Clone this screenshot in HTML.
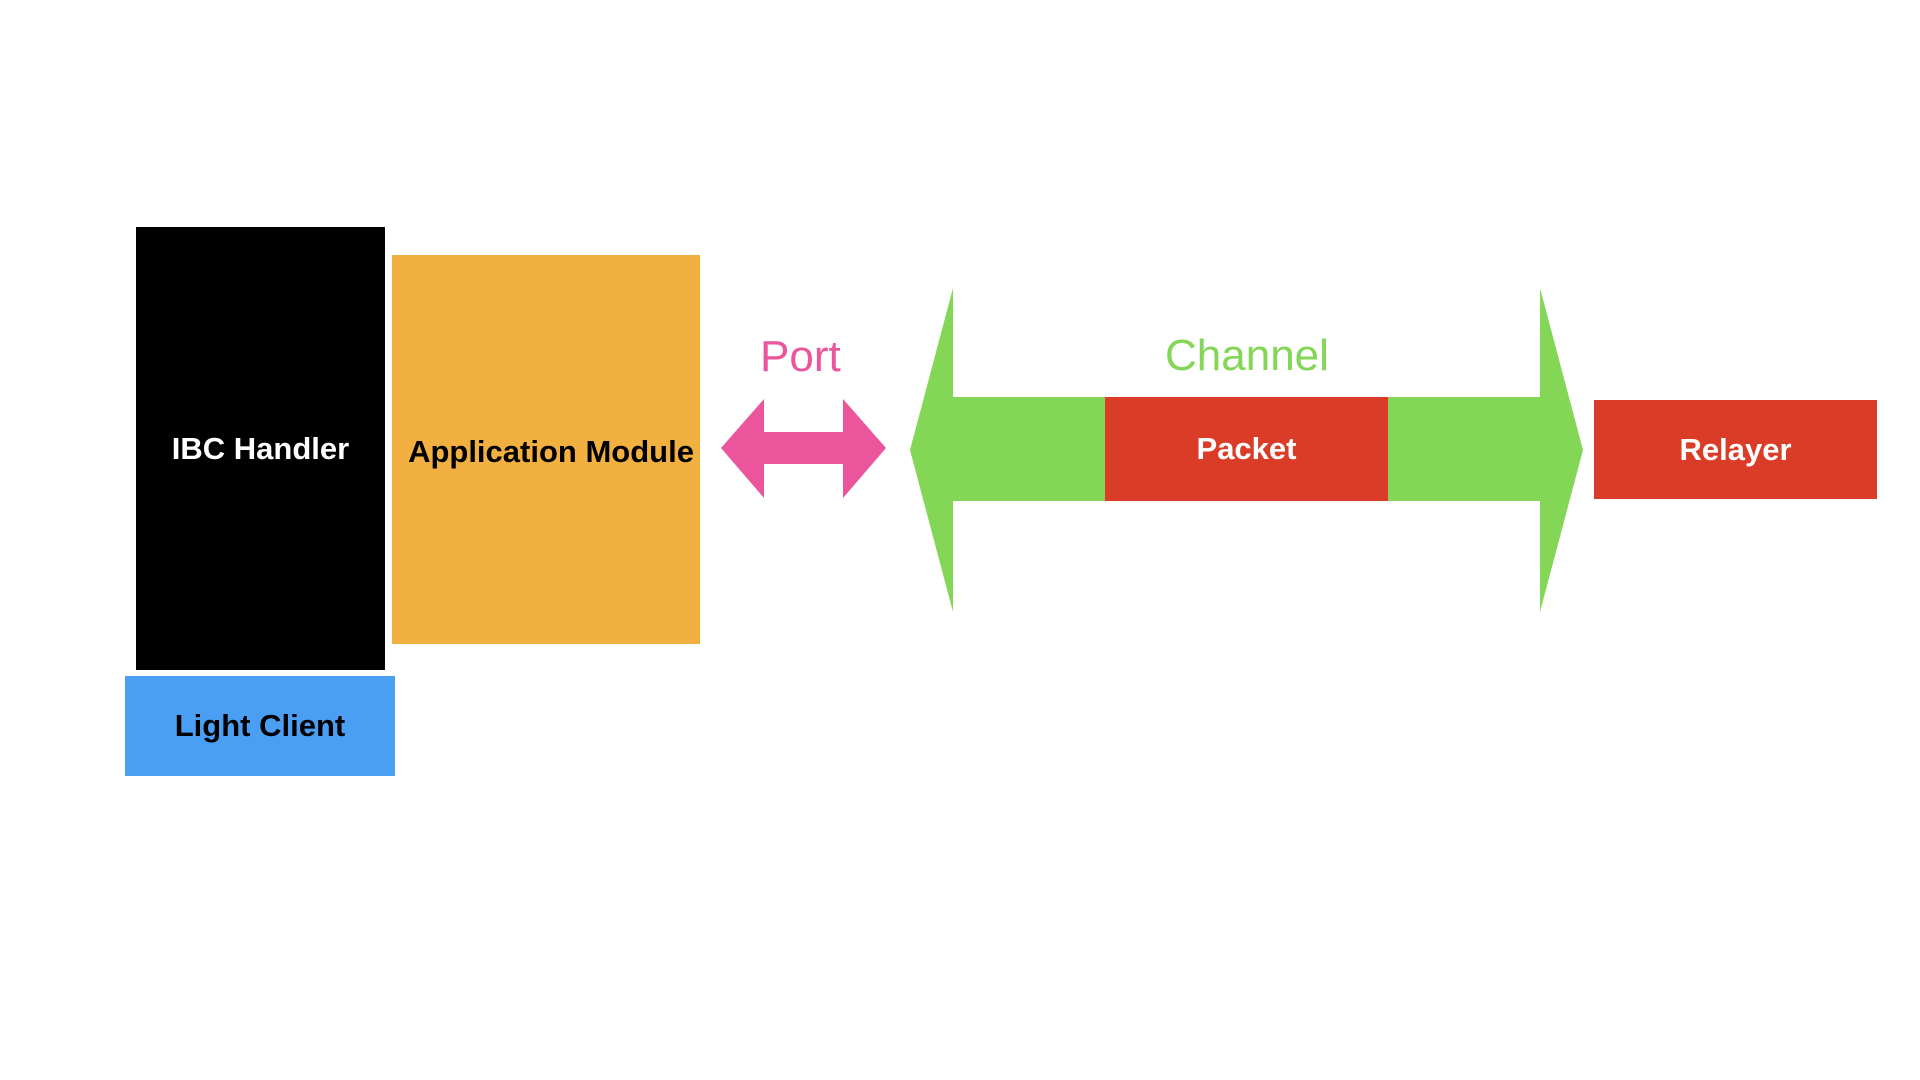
<!DOCTYPE html>
<html><head><meta charset="utf-8"><style>
html,body{margin:0;padding:0;background:#fff;}
body{width:1920px;height:1080px;position:relative;overflow:hidden;font-family:"Liberation Sans",Arial,sans-serif;}
.b{position:absolute;display:flex;align-items:center;justify-content:center;font-weight:bold;font-size:31px;}
.t{position:absolute;font-size:44px;line-height:1;}
</style></head><body>
<div class="b" style="left:136px;top:227px;width:249px;height:443px;background:#000;color:#fff;">IBC Handler</div>
<div class="b" style="left:392px;top:255px;width:308px;height:389px;background:#F1B03F;color:#000;white-space:nowrap;"><span style="position:relative;left:5px;top:2px">Application Module</span></div>
<div class="b" style="left:125px;top:676px;width:270px;height:100px;background:#4A9FF5;color:#000;">Light Client</div>
<svg width="1920" height="1080" style="position:absolute;left:0;top:0">
<polygon points="721,448 764,399 764,432 843,432 843,399 886,448 843,498 843,464 764,464 764,498" fill="#EB559B"/>
<polygon points="910,450 953,288 953,397 1540,397 1540,288 1583,450 1540,612 1540,501 953,501 953,612" fill="#84D657"/>
</svg>
<div class="b" style="left:1105px;top:397px;width:283px;height:104px;background:#DA3C28;color:#fff;">Packet</div>
<div class="b" style="left:1594px;top:400px;width:283px;height:99px;background:#DA3C28;color:#fff;">Relayer</div>
<div class="t" style="left:760px;top:335px;color:#EB559B;">Port</div>
<div class="t" style="left:1165px;top:334px;color:#84D657;">Channel</div>
</body></html>
